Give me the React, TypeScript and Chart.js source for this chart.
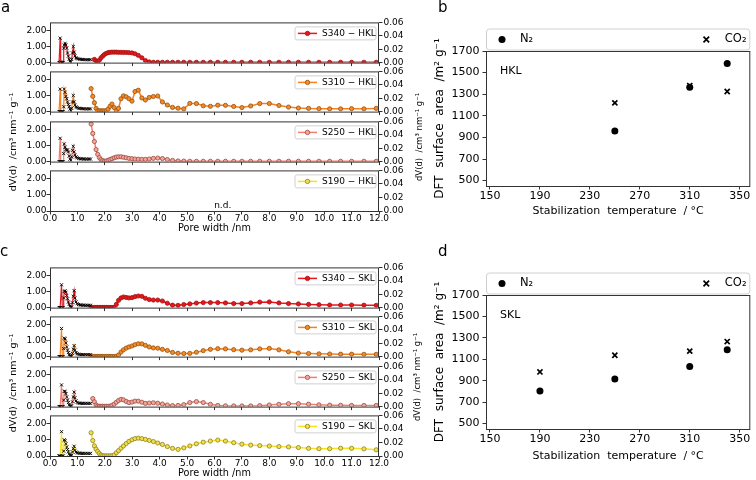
import React, { useEffect, useRef } from "react";
import { Chart, registerables } from "chart.js";

Chart.register(...registerables);

const FONT = "'DejaVu Sans', 'Liberation Sans', Arial, sans-serif";
Chart.defaults.font.family = FONT;
Chart.defaults.color = "#000";

// ---------------- Pore size distributions (panels a, c) ----------------
// N2 DFT pore widths (nm)
const n2PoreWidth = [
  1.5, 1.56, 1.62, 1.68, 1.74, 1.8, 1.86, 1.92, 1.98,
  2.05, 2.12, 2.19, 2.26, 2.34, 2.42, 2.5, 2.59, 2.68,
  2.78, 2.88, 2.99, 3.1, 3.22, 3.35, 3.48, 3.62, 3.77,
  3.93, 4.1, 4.28, 4.47, 4.67, 4.88, 5.1, 5.34, 5.59,
  5.85, 6.12, 6.4, 6.7, 7.0, 7.32, 7.65, 8.0, 8.35,
  8.7, 9.06, 9.43, 9.81, 10.2, 10.6, 11.0, 11.45, 11.9,
];
// CO2 DFT pore widths (nm)
const co2PoreWidth = [
  0.33, 0.35, 0.37, 0.39, 0.42, 0.45, 0.48, 0.5, 0.52, 0.55, 0.58,
  0.61, 0.64, 0.67, 0.7, 0.73, 0.76, 0.79, 0.82, 0.85, 0.88, 0.91,
  0.95, 0.99, 1.04, 1.09, 1.14, 1.19, 1.24, 1.3, 1.36, 1.42, 1.48,
];

const poreTicks = [0, 1, 2, 3, 4, 5, 6, 7, 8, 9, 10, 11, 12];
const n2Ticks = [0, 1, 2];
const co2Ticks = [0, 0.02, 0.04, 0.06];

// N2 dV(d) (left axis, cm3 nm-1 g-1)
const n2_S340_HKL = [
  null, null, 0.2, 0.1, 0.06, 0.15, 0.3, 0.4, 0.5,
  0.57, 0.62, 0.64, 0.65, 0.65, 0.65, 0.64, 0.64, 0.63,
  0.63, 0.62, 0.6, 0.55, 0.45, 0.3, 0.13, 0.04, 0.02,
  0.02, 0.02, 0.02, 0.02, 0.02, 0.02, 0.02, 0.02, 0.02,
  0.02, 0.02, 0.02, 0.02, 0.02, 0.02, 0.02, 0.02, 0.02,
  0.02, 0.02, 0.02, 0.02, 0.02, 0.02, 0.02, 0.02, 0.02,
];
const n2_S310_HKL = [
  1.43, 0.95, 0.55, 0.2, 0.06, 0.05, 0.05, 0.05, 0.05,
  0.05, 0.15, 0.33, 0.47, 0.25, 0.06, 0.2, 0.8, 0.98,
  0.92, 0.8, 0.65, 1.25, 1.33, 0.85, 0.72, 0.88, 0.94,
  0.97, 0.6, 0.41, 0.26, 0.21, 0.17, 0.51, 0.5, 0.36,
  0.33, 0.4, 0.39, 0.32, 0.25, 0.35, 0.5, 0.5, 0.38,
  0.28, 0.22, 0.2, 0.18, 0.17, 0.17, 0.18, 0.17, 0.2,
];
const n2_S250_HKL = [
  2.34, 1.75, 1.25, 0.75, 0.45, 0.25, 0.12, 0.06, 0.03,
  0.04, 0.08, 0.13, 0.18, 0.24, 0.28, 0.3, 0.3, 0.27,
  0.24, 0.2, 0.18, 0.16, 0.15, 0.14, 0.14, 0.16, 0.2,
  0.22, 0.19, 0.13, 0.07, 0.04, 0.03, 0.02, 0.02, 0.02,
  0.02, 0.02, 0.02, 0.02, 0.02, 0.02, 0.02, 0.02, 0.02,
  0.02, 0.02, 0.02, 0.02, 0.02, 0.02, 0.02, 0.02, 0.02,
];
const n2_S340_SKL = [
  0.01, 0.01, 0.01, 0.01, 0.01, 0.01, 0.01, 0.01, 0.01,
  0.01, 0.01, 0.01, 0.01, 0.01, 0.2, 0.45, 0.6, 0.66,
  0.63, 0.6, 0.62, 0.68, 0.72, 0.7, 0.58, 0.5, 0.47,
  0.47, 0.41, 0.27, 0.15, 0.14, 0.19, 0.23, 0.28, 0.31,
  0.31, 0.31, 0.29, 0.25, 0.25, 0.29, 0.34, 0.35, 0.29,
  0.25, 0.23, 0.2, 0.18, 0.16, 0.16, 0.16, 0.15, 0.14,
];
const n2_S310_SKL = [
  0.01, 0.01, 0.01, 0.01, 0.01, 0.01, 0.01, 0.01, 0.01,
  0.01, 0.01, 0.01, 0.01, 0.01, 0.01, 0.1, 0.28, 0.42,
  0.53, 0.6, 0.66, 0.74, 0.8, 0.79, 0.7, 0.6, 0.54,
  0.52, 0.45, 0.38, 0.26, 0.21, 0.19, 0.2, 0.27, 0.37,
  0.45, 0.49, 0.48, 0.43, 0.4, 0.42, 0.48, 0.51, 0.42,
  0.3, 0.22, 0.19, 0.17, 0.16, 0.15, 0.15, 0.14, 0.14,
];
const n2_S250_SKL = [
  null, 0.5, 0.3, 0.1, 0.03, 0.02, 0.02, 0.02, 0.02,
  0.02, 0.02, 0.02, 0.08, 0.15, 0.27, 0.38, 0.45, 0.42,
  0.32, 0.25, 0.28, 0.34, 0.34, 0.27, 0.2, 0.22, 0.24,
  0.21, 0.16, 0.1, 0.06, 0.07, 0.12, 0.25, 0.31, 0.25,
  0.14, 0.07, 0.05, 0.04, 0.04, 0.04, 0.06, 0.1, 0.14,
  0.18, 0.18, 0.15, 0.11, 0.09, 0.08, 0.07, 0.07, 0.07,
];
const n2_S190_SKL = [
  1.43, 0.95, 0.62, 0.42, 0.28, 0.15, 0.06, 0.02, 0.01,
  0.01, 0.01, 0.01, 0.02, 0.06, 0.2, 0.33, 0.48, 0.62,
  0.77, 0.9, 1.0, 1.07, 1.1, 1.07, 1.02, 0.96, 0.89,
  0.8, 0.71, 0.58, 0.47, 0.41, 0.5, 0.62, 0.75, 0.85,
  0.92, 0.98, 0.92, 0.82, 0.73, 0.67, 0.64, 0.61, 0.58,
  0.56, 0.52, 0.47, 0.45, 0.45, 0.48, 0.47, 0.44, 0.38,
];

// CO2 dV(d) (right axis)
const co2_S340_HKL = [
  0, 0, 0.0365, 0.0012, 0, 0, 0, 0.0216, 0.0264, 0.0288, 0.0264,
  0.0216, 0.0144, 0.0096, 0.0048, 0.0024, 0.0012, 0.0048, 0.0144, 0.024, 0.0156, 0.0101,
  0.0072, 0.0062, 0.0055, 0.005, 0.0048, 0.0046, 0.0046, 0.0043, 0.0043, 0.0043, 0.0043,
];
const co2_S310_HKL = [
  0, 0, 0.0336, 0, 0, 0, 0, 0.0072, 0.0336, 0.0288, 0.0228,
  0.0192, 0.0144, 0.0108, 0.0072, 0.0036, 0.0012, 0.0048, 0.0144, 0.024, 0.0144, 0.0096,
  0.0072, 0.006, 0.005, 0.0048, 0.0046, 0.0043, 0.0043, 0.0041, 0.0041, 0.0041, 0.0041,
];
const co2_S250_HKL = [
  0, 0, 0.0348, 0, 0, 0, 0, 0.012, 0.0264, 0.0216, 0.018,
  0.0173, 0.0173, 0.0144, 0.0084, 0.0036, 0.0019, 0.0072, 0.0168, 0.0228, 0.0144, 0.0096,
  0.0072, 0.0058, 0.0048, 0.0043, 0.0041, 0.0041, 0.0038, 0.0038, 0.0038, 0.0038, 0.0038,
];
const co2_S340_SKL = [
  0, 0, 0, 0, 0.0341, 0, 0, 0.0144, 0.024, 0.0252, 0.0228,
  0.018, 0.0132, 0.0084, 0.0048, 0.0019, 0.0007, 0.0007, 0.0072, 0.0168, 0.0252, 0.0144,
  0.0084, 0.0058, 0.0046, 0.0041, 0.0038, 0.0036, 0.0036, 0.0034, 0.0034, 0.0034, 0.0034,
];
const co2_S310_SKL = [
  0, 0, 0, 0, 0.042, 0, 0, 0.012, 0.0276, 0.0264, 0.0204,
  0.0144, 0.0096, 0.006, 0.0029, 0.0012, 0.0007, 0.0007, 0.0048, 0.0108, 0.0163, 0.0096,
  0.006, 0.0043, 0.0036, 0.0031, 0.0029, 0.0029, 0.0029, 0.0029, 0.0029, 0.0029, 0.0029,
];
const co2_S250_SKL = [
  0, 0, 0, 0, 0.0324, 0, 0, 0.0096, 0.0228, 0.0228, 0.0192,
  0.0144, 0.0096, 0.006, 0.0024, 0.0007, 0.0005, 0.0012, 0.0072, 0.0144, 0.0216, 0.0132,
  0.0084, 0.0062, 0.0053, 0.005, 0.0048, 0.0048, 0.0048, 0.0048, 0.0048, 0.0048, 0.0048,
];
const co2_S190_SKL = [
  0, 0, 0, 0, 0.036, 0, 0, 0.0072, 0.024, 0.0228, 0.018,
  0.0132, 0.0096, 0.006, 0.0029, 0.0012, 0.0007, 0.0012, 0.006, 0.0108, 0.0144, 0.0084,
  0.0058, 0.0048, 0.0043, 0.0041, 0.0038, 0.0038, 0.0038, 0.0038, 0.0038, 0.0038, 0.0038,
];

// ---------------- DFT surface area (panels b, d) ----------------
const tempHKL = [250, 310, 340];
const n2AreaHKL = [960, 1365, 1585];
const co2AreaHKL = [1220, 1380, 1325];
const tempSKL = [190, 250, 310, 340];
const n2AreaSKL = [805, 917, 1033, 1190];
const co2AreaSKL = [982, 1138, 1176, 1266];
const tempTicks = [150, 190, 230, 270, 310, 350];
const areaTicks = [500, 700, 900, 1100, 1300, 1500, 1700];

// ---------------- styles ----------------
type SeriesStyle = { line: string; fill: string; edge: string };
const STYLES: Record<string, SeriesStyle> = {
  S340: { line: "#e8171b", fill: "#e8171b", edge: "#a01212" },
  S310: { line: "#f5821f", fill: "#f58a2a", edge: "#94500f" },
  S250: { line: "#f27e70", fill: "#f5a697", edge: "#9a4a44" },
  S190: { line: "#f7e21b", fill: "#f3df4a", edge: "#8d8220" },
};

const psdDecor = {
  id: "psdDecor",
  afterDatasetsDraw(chart: any, _args: any, opts: any) {
    const { ctx, chartArea: a } = chart;
    ctx.save();
    ctx.strokeStyle = "#333";
    ctx.lineWidth = 1;
    ctx.strokeRect(a.left + 0.5, a.top + 0.5, a.right - a.left - 1, a.bottom - a.top);
    if (opts && opts.label) {
      const st: SeriesStyle = opts.style;
      const bw = 81;
      const bh = 13;
      const bx = a.right - 3 - bw;
      const by = a.top + 4.5;
      ctx.beginPath();
      if (ctx.roundRect) ctx.roundRect(bx, by, bw, bh, 2);
      else ctx.rect(bx, by, bw, bh);
      ctx.fillStyle = "rgba(255,255,255,0.85)";
      ctx.fill();
      ctx.strokeStyle = "#d0d0d0";
      ctx.lineWidth = 1;
      ctx.stroke();
      const cy = by + bh / 2;
      ctx.beginPath();
      ctx.moveTo(bx + 3, cy);
      ctx.lineTo(bx + 22, cy);
      ctx.strokeStyle = st.line;
      ctx.lineWidth = 1.5;
      ctx.stroke();
      ctx.beginPath();
      ctx.arc(bx + 12.5, cy, 2.2, 0, Math.PI * 2);
      ctx.fillStyle = st.fill;
      ctx.fill();
      ctx.strokeStyle = st.edge;
      ctx.lineWidth = 0.8;
      ctx.stroke();
      ctx.fillStyle = "#000";
      ctx.font = `9px ${FONT}`;
      ctx.textBaseline = "middle";
      ctx.textAlign = "left";
      ctx.fillText(opts.label, bx + 27, cy + 0.5);
    }
    if (opts && opts.nd) {
      ctx.fillStyle = "#000";
      ctx.font = `9px ${FONT}`;
      ctx.textAlign = "center";
      ctx.textBaseline = "bottom";
      ctx.fillText("n.d.", chart.scales.x.getPixelForValue(6.3), a.bottom - 1);
    }
    ctx.restore();
  },
};

const scatterDecor = {
  id: "scatterDecor",
  afterDatasetsDraw(chart: any, _args: any, opts: any) {
    const { ctx, chartArea: a } = chart;
    ctx.save();
    ctx.strokeStyle = "#333";
    ctx.lineWidth = 1;
    ctx.strokeRect(a.left + 0.5, a.top + 0.5, a.right - a.left - 1, a.bottom - a.top);
    // legend box
    const bx = a.left;
    const by = a.top - 22.5;
    const bw = a.right - a.left;
    const bh = 21;
    ctx.beginPath();
    if (ctx.roundRect) ctx.roundRect(bx + 0.5, by + 0.5, bw - 1, bh, 3);
    else ctx.rect(bx + 0.5, by + 0.5, bw - 1, bh);
    ctx.fillStyle = "#fff";
    ctx.fill();
    ctx.strokeStyle = "#d0d0d0";
    ctx.stroke();
    const cy = by + bh / 2 + 0.5;
    ctx.beginPath();
    ctx.arc(a.left + 16, cy, 3.5, 0, Math.PI * 2);
    ctx.fillStyle = "#000";
    ctx.fill();
    const cx = a.right - 44;
    const r = 2.8;
    ctx.beginPath();
    ctx.moveTo(cx - r, cy - r);
    ctx.lineTo(cx + r, cy + r);
    ctx.moveTo(cx - r, cy + r);
    ctx.lineTo(cx + r, cy - r);
    ctx.strokeStyle = "#000";
    ctx.lineWidth = 1.7;
    ctx.stroke();
    ctx.fillStyle = "#000";
    ctx.font = `11.5px ${FONT}`;
    ctx.textBaseline = "middle";
    ctx.textAlign = "left";
    ctx.fillText("N₂", a.left + 34, cy);
    ctx.fillText("CO₂", a.right - 25.5, cy);
    ctx.font = `11px ${FONT}`;
    ctx.fillText(opts.inset, a.left + 14, a.top + 20);
    ctx.restore();
  },
};

const tickGrid = {
  drawOnChartArea: false,
  drawTicks: true,
  tickLength: 3.5,
  color: "#333",
  lineWidth: 1,
};

type PsdProps = {
  top: number;
  showX: boolean;
  n2: (number | null)[] | null;
  co2: number[] | null;
  series: string;
  label: string;
  nd?: boolean;
};

function PsdPlot({ top, showX, n2, co2, series, label, nd }: PsdProps) {
  const ref = useRef<HTMLCanvasElement | null>(null);
  const xH = showX ? 23 : 4;
  const padB = showX ? 0 : 2;
  const height = 6 + 41 + xH + padB;
  useEffect(() => {
    const st = STYLES[series];
    const datasets: any[] = [];
    if (co2) {
      datasets.push({
        data: co2PoreWidth.map((x, i) => ({ x, y: co2[i] })),
        yAxisID: "y1",
        showLine: true,
        borderColor: st.line,
        borderWidth: 1.2,
        pointStyle: "crossRot",
        pointRadius: 2.2,
        pointBorderColor: "#000",
        pointBackgroundColor: "#000",
        pointBorderWidth: 0.9,
      });
    }
    if (n2) {
      datasets.push({
        data: n2PoreWidth.map((x, i) => ({ x, y: n2[i] })),
        yAxisID: "y",
        showLine: true,
        spanGaps: false,
        borderColor: st.line,
        borderWidth: 1.5,
        pointStyle: "circle",
        pointRadius: 2.1,
        pointBackgroundColor: st.fill,
        pointBorderColor: st.edge,
        pointBorderWidth: 0.8,
      });
    }
    const font9 = { family: FONT, size: 9, lineHeight: 1.2 };
    const chart = new Chart(ref.current as HTMLCanvasElement, {
      type: "scatter",
      data: { datasets },
      plugins: [psdDecor],
      options: {
        responsive: false,
        animation: false,
        events: [],
        layout: { padding: { top: 6, left: 0, right: 0, bottom: padB } },
        plugins: {
          legend: { display: false },
          tooltip: { enabled: false },
          psdDecor: { label, style: st, nd: !!nd },
        } as any,
        scales: {
          x: {
            type: "linear",
            min: 0,
            max: 12,
            afterBuildTicks: (s: any) => {
              s.ticks = poreTicks.map((v) => ({ value: v }));
            },
            ticks: {
              display: showX,
              font: font9,
              color: "#000",
              padding: -1,
              maxRotation: 0,
              autoSkip: false,
              callback: (v: any) => Number(v).toFixed(1),
            },
            grid: tickGrid,
            border: { display: false },
            title: {
              display: showX,
              text: "Pore width /nm",
              font: { family: FONT, size: 9.7 },
              color: "#000",
              padding: 0,
            },
            afterFit: (s: any) => {
              s.height = xH;
            },
          },
          y: {
            type: "linear",
            position: "left",
            min: 0,
            max: 2.5,
            afterBuildTicks: (s: any) => {
              s.ticks = n2Ticks.map((v) => ({ value: v }));
            },
            ticks: {
              font: font9,
              color: "#000",
              padding: 0,
              autoSkip: false,
              callback: (v: any) => Number(v).toFixed(2),
            },
            grid: tickGrid,
            border: { display: false },
            afterFit: (s: any) => {
              s.width = 50;
            },
          },
          y1: {
            type: "linear",
            position: "right",
            min: 0,
            max: 0.06,
            afterBuildTicks: (s: any) => {
              s.ticks = co2Ticks.map((v) => ({ value: v }));
            },
            ticks: {
              font: font9,
              color: "#000",
              padding: 1,
              autoSkip: false,
              callback: (v: any) => Number(v).toFixed(2),
            },
            grid: tickGrid,
            border: { display: false },
            afterFit: (s: any) => {
              s.width = 41;
            },
          },
        } as any,
      },
    });
    return () => chart.destroy();
  }, []);
  return (
    <canvas
      ref={ref}
      width={420}
      height={height}
      style={{ position: "absolute", left: 0, top: top - 6, width: 420, height }}
    />
  );
}

type ScatterProps = {
  top: number;
  temps: number[];
  n2: number[];
  co2: number[];
  inset: string;
  plotTop: number;
  plotBottom: number;
  xH: number;
};

function AreaPlot({ top, temps, n2, co2, inset, plotTop, plotBottom, xH }: ScatterProps) {
  const ref = useRef<HTMLCanvasElement | null>(null);
  useEffect(() => {
    const font11 = { family: FONT, size: 11, lineHeight: 1.2 };
    const chart = new Chart(ref.current as HTMLCanvasElement, {
      type: "scatter",
      data: {
        datasets: [
          {
            data: temps.map((x, i) => ({ x, y: n2[i] })),
            pointStyle: "circle",
            pointRadius: 3.5,
            pointBackgroundColor: "#000",
            pointBorderColor: "#000",
            pointBorderWidth: 0,
          },
          {
            data: temps.map((x, i) => ({ x, y: co2[i] })),
            pointStyle: "crossRot",
            pointRadius: 3.6,
            pointBackgroundColor: "#000",
            pointBorderColor: "#000",
            pointBorderWidth: 1.7,
          },
        ] as any,
      },
      plugins: [scatterDecor],
      options: {
        responsive: false,
        animation: false,
        events: [],
        layout: { padding: { top: plotTop, left: 53, right: 5, bottom: 240 - plotBottom - xH } },
        plugins: {
          legend: { display: false },
          tooltip: { enabled: false },
          scatterDecor: { inset },
        } as any,
        scales: {
          x: {
            type: "linear",
            min: 146.8,
            max: 358.5,
            afterBuildTicks: (s: any) => {
              s.ticks = tempTicks.map((v) => ({ value: v }));
            },
            ticks: {
              font: font11,
              color: "#000",
              padding: 0,
              maxRotation: 0,
              autoSkip: false,
              callback: (v: any) => String(v),
            },
            grid: tickGrid,
            border: { display: false },
            title: {
              display: true,
              text: "Stabilization  temperature  / °C",
              font: { family: FONT, size: 11 },
              color: "#000",
              padding: 0,
            },
            afterFit: (s: any) => {
              s.height = xH;
            },
          },
          y: {
            type: "linear",
            min: 450,
            max: 1700,
            afterBuildTicks: (s: any) => {
              s.ticks = areaTicks.map((v) => ({ value: v }));
            },
            ticks: {
              font: font11,
              color: "#000",
              padding: 3,
              autoSkip: false,
              callback: (v: any) => String(v),
            },
            grid: tickGrid,
            border: { display: false },
            title: {
              display: true,
              text: "DFT  surface  area  /m² g⁻¹",
              font: { family: FONT, size: 12 },
              color: "#000",
              padding: 0,
            },
            afterFit: (s: any) => {
              s.width = 53;
            },
          },
        } as any,
      },
    });
    return () => chart.destroy();
  }, []);
  return (
    <canvas
      ref={ref}
      width={376}
      height={240}
      style={{ position: "absolute", left: 380, top, width: 376, height: 240 }}
    />
  );
}

const letterStyle: React.CSSProperties = {
  position: "absolute",
  fontFamily: FONT,
  fontSize: 15,
  lineHeight: "15px",
  color: "#000",
};

function VTitle({ cx, cy, size }: { cx: number; cy: number; size: number }) {
  return (
    <div
      style={{
        position: "absolute",
        left: cx,
        top: cy,
        transform: "translate(-50%, -50%) rotate(-90deg)",
        whiteSpace: "nowrap",
        fontFamily: FONT,
        fontSize: size,
        lineHeight: 1,
        color: "#000",
      }}
    >
      dV(d)&nbsp;&nbsp;/cm³ nm⁻¹ g⁻¹
    </div>
  );
}

export default function App() {
  return (
    <div
      style={{
        position: "absolute",
        left: 0,
        top: 0,
        width: 756,
        height: 480,
        background: "#fff",
        overflow: "hidden",
      }}
    >
      {/* panel a */}
      <PsdPlot top={22} showX={false} n2={n2_S340_HKL} co2={co2_S340_HKL} series="S340" label="S340 − HKL" />
      <PsdPlot top={71} showX={false} n2={n2_S310_HKL} co2={co2_S310_HKL} series="S310" label="S310 − HKL" />
      <PsdPlot top={121} showX={false} n2={n2_S250_HKL} co2={co2_S250_HKL} series="S250" label="S250 − HKL" />
      <PsdPlot top={170} showX={true} n2={null} co2={null} series="S190" label="S190 − HKL" nd />
      {/* panel c */}
      <PsdPlot top={267} showX={false} n2={n2_S340_SKL} co2={co2_S340_SKL} series="S340" label="S340 − SKL" />
      <PsdPlot top={316} showX={false} n2={n2_S310_SKL} co2={co2_S310_SKL} series="S310" label="S310 − SKL" />
      <PsdPlot top={366} showX={false} n2={n2_S250_SKL} co2={co2_S250_SKL} series="S250" label="S250 − SKL" />
      <PsdPlot top={415} showX={true} n2={n2_S190_SKL} co2={co2_S190_SKL} series="S190" label="S190 − SKL" />
      {/* panels b, d */}
      <AreaPlot top={0} temps={tempHKL} n2={n2AreaHKL} co2={co2AreaHKL} inset="HKL" plotTop={51} plotBottom={186} xH={31.3} />
      <AreaPlot top={240} temps={tempSKL} n2={n2AreaSKL} co2={co2AreaSKL} inset="SKL" plotTop={55} plotBottom={189} xH={33.6} />
      {/* shared axis titles */}
      <VTitle cx={13} cy={142} size={9.5} />
      <VTitle cx={13} cy={383} size={9.5} />
      <VTitle cx={419} cy={137} size={8.5} />
      <VTitle cx={417} cy={377} size={8.5} />
      {/* panel letters */}
      <div style={{ ...letterStyle, left: 1, top: 0 }}>a</div>
      <div style={{ ...letterStyle, left: 438, top: 0 }}>b</div>
      <div style={{ ...letterStyle, left: 0, top: 244 }}>c</div>
      <div style={{ ...letterStyle, left: 438, top: 244 }}>d</div>
    </div>
  );
}
